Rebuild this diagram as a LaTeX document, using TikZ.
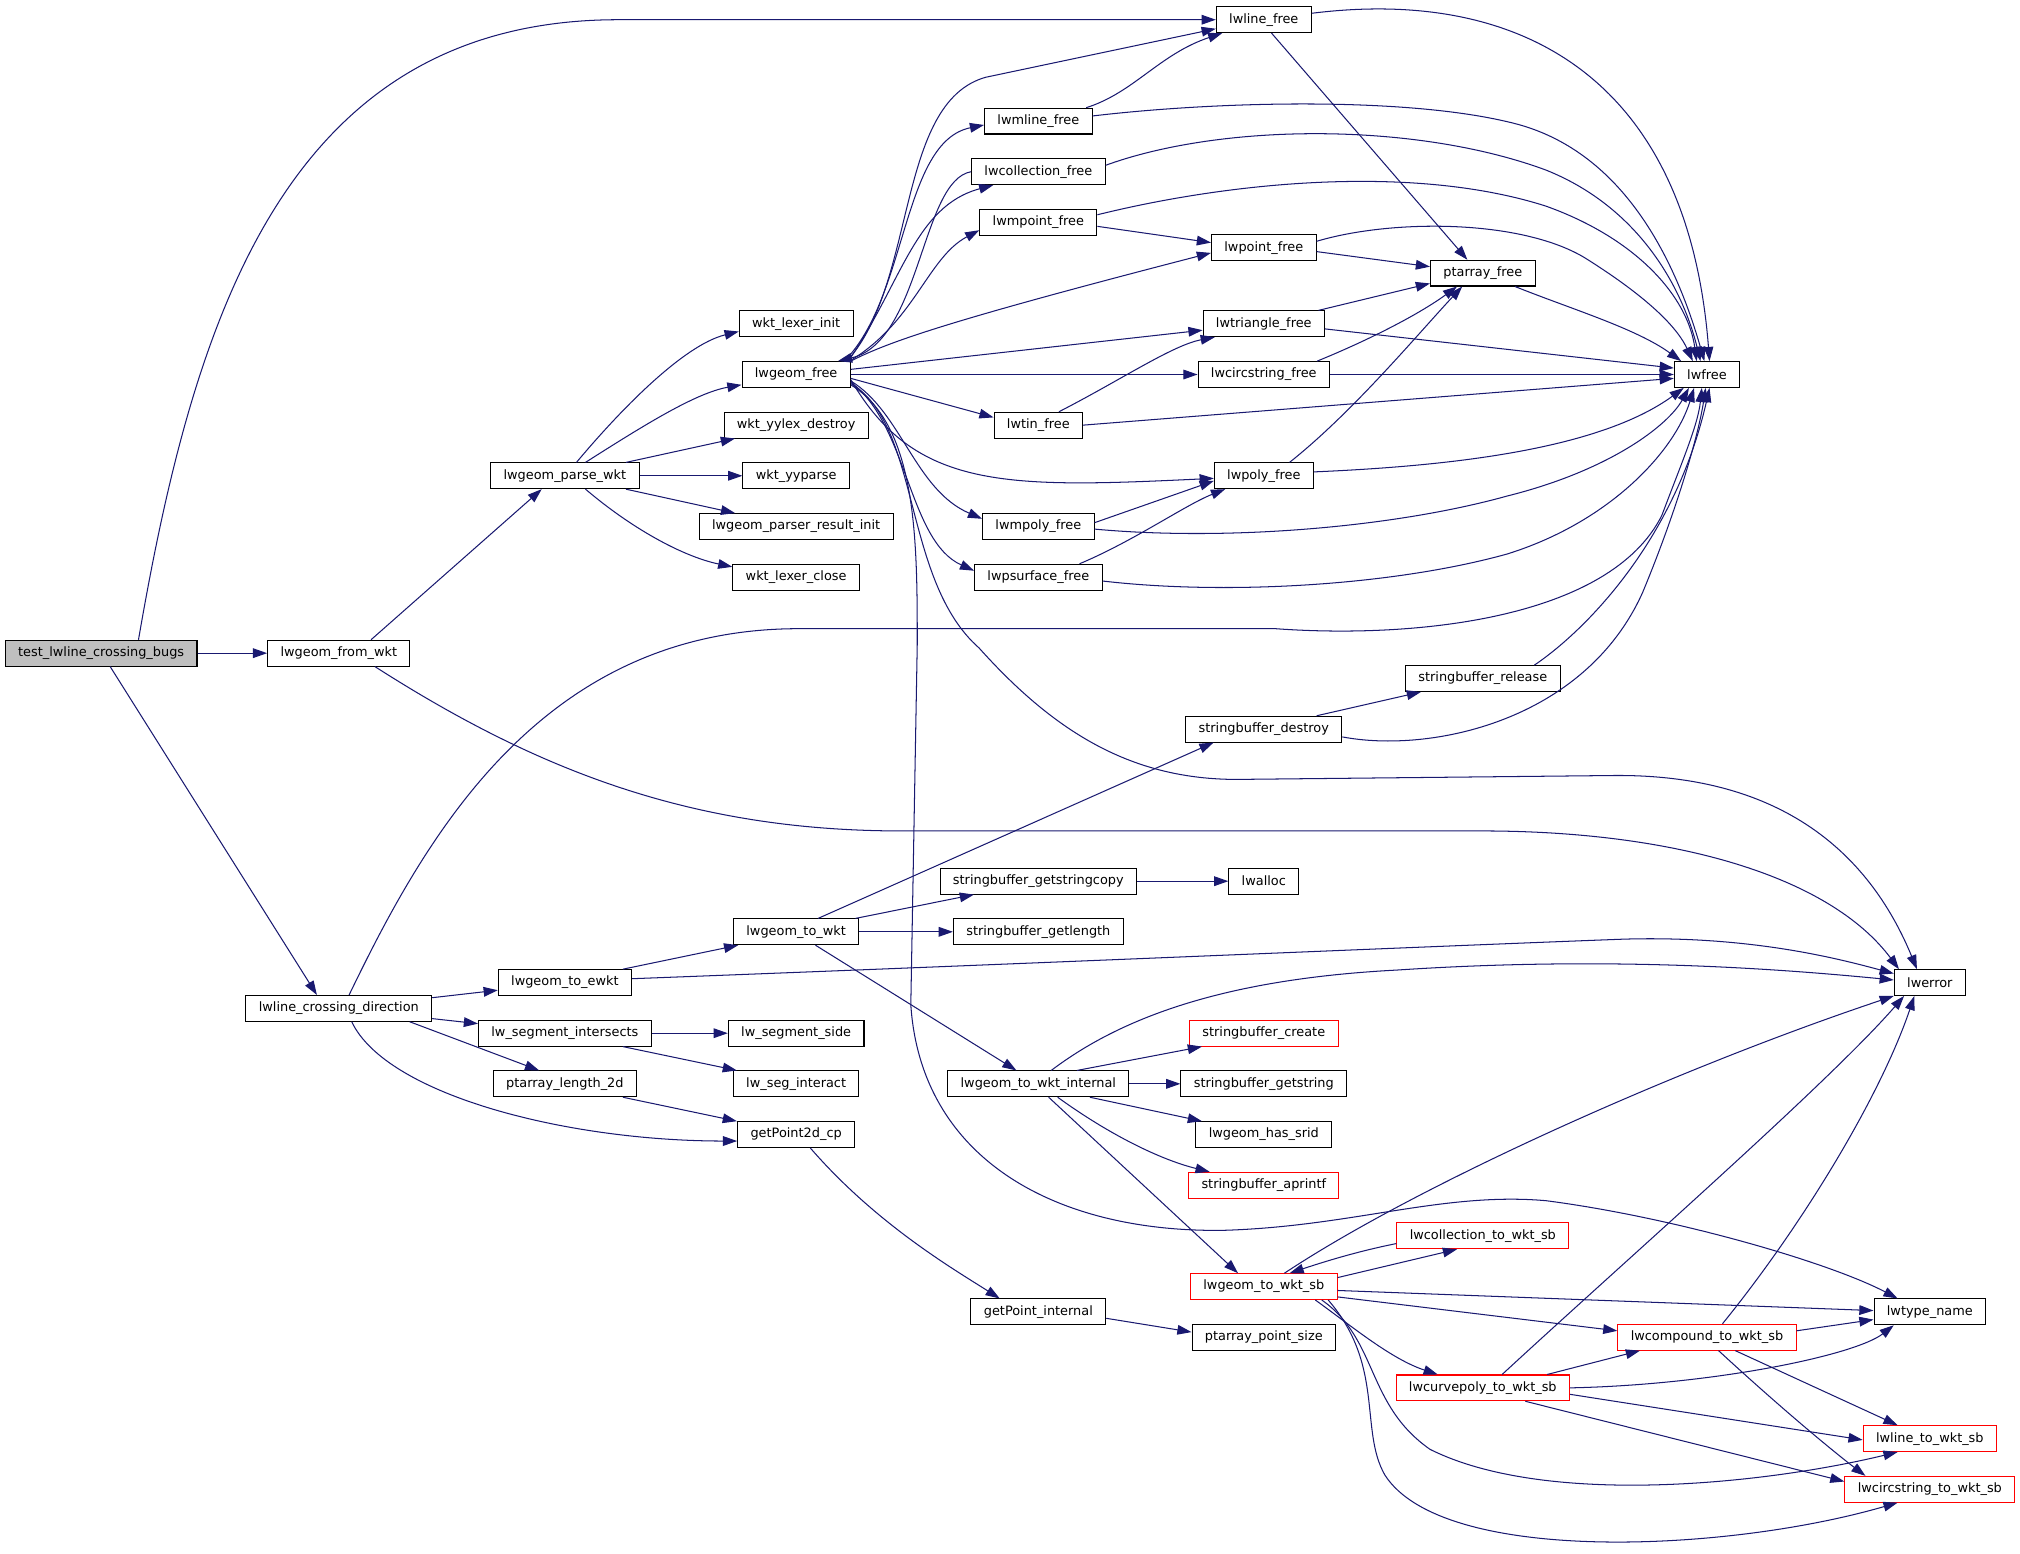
\documentclass[tikz,border=0pt]{standalone}
\usepackage{fontspec}
\setmainfont{DejaVu Sans}
\usetikzlibrary{arrows.meta}
\definecolor{edgeblue}{HTML}{191970}
\definecolor{boxgray}{HTML}{BFBFBF}

\begin{document}
\begin{tikzpicture}[x=1pt,y=-1pt,
  fn/.style={draw=black,fill=white,line width=0.8pt,inner xsep=10pt,inner ysep=0pt,
    minimum height=20pt,font=\fontsize{10}{12}\selectfont},
  fnred/.style={fn,draw=red},
  callto/.style={draw=edgeblue,line width=0.8pt,-{Triangle[length=11pt,width=7.5pt]}}]
\path[use as bounding box,fill=white] (0,0) rectangle (1568,1205.5);

\node[fn,fill=boxgray] (test) at (78.5,507) {test\_lwline\_crossing\_bugs};
\node[fn] (fromwkt) at (263,507) {lwgeom\_from\_wkt};
\node[fn] (crossdir) at (263,782.7) {lwline\_crossing\_direction};
\node[fn] (parsewkt) at (438.5,369.3) {lwgeom\_parse\_wkt};
\node[fn] (toewkt) at (438.5,762.7) {lwgeom\_to\_ewkt};
\node[fn] (segint) at (438.5,802) {lw\_segment\_intersects};
\node[fn] (palen) at (438.5,841.3) {ptarray\_length\_2d};
\node[fn] (lexinit) at (618,251.3) {wkt\_lexer\_init};
\node[fn] (geomfree) at (618,290.7) {lwgeom\_free};
\node[fn] (yylexdes) at (618,330) {wkt\_yylex\_destroy};
\node[fn] (yyparse) at (618,369.3) {wkt\_yyparse};
\node[fn] (resinit) at (618,408.7) {lwgeom\_parser\_result\_init};
\node[fn] (lexclose) at (618,448) {wkt\_lexer\_close};
\node[fn] (towkt) at (618,723.3) {lwgeom\_to\_wkt};
\node[fn] (segside) at (618,802) {lw\_segment\_side};
\node[fn] (seginter) at (618,841.3) {lw\_seg\_interact};
\node[fn] (gp2d) at (618,880.7) {getPoint2d\_cp};
\node[fn] (mlinefree) at (806,94) {lwmline\_free};
\node[fn] (collfree) at (806,133.3) {lwcollection\_free};
\node[fn] (mpointfree) at (806,172.7) {lwmpoint\_free};
\node[fn] (tinfree) at (806,330) {lwtin\_free};
\node[fn] (mpolyfree) at (806,408.7) {lwmpoly\_free};
\node[fn] (psurffree) at (806,448) {lwpsurface\_free};
\node[fn] (sbcopy) at (806,684) {stringbuffer\_getstringcopy};
\node[fn] (sblen) at (806,723.3) {stringbuffer\_getlength};
\node[fn] (wktint) at (806,841.3) {lwgeom\_to\_wkt\_internal};
\node[fn] (gpint) at (806,1018.3) {getPoint\_internal};
\node[fn] (linefree) at (981,15.3) {lwline\_free};
\node[fn] (pointfree) at (981,192.3) {lwpoint\_free};
\node[fn] (trifree) at (981,251.3) {lwtriangle\_free};
\node[fn] (circfree) at (981,290.7) {lwcircstring\_free};
\node[fn] (polyfree) at (981,369.3) {lwpoly\_free};
\node[fn] (sbdestroy) at (981,566) {stringbuffer\_destroy};
\node[fn] (lwalloc) at (981,684) {lwalloc};
\node[fnred] (sbcreate) at (981,802) {stringbuffer\_create};
\node[fn] (sbgetstr) at (981,841.3) {stringbuffer\_getstring};
\node[fn] (hassrid) at (981,880.7) {lwgeom\_has\_srid};
\node[fnred] (sbaprintf) at (981,920) {stringbuffer\_aprintf};
\node[fnred] (wktsb) at (981,998.7) {lwgeom\_to\_wkt\_sb};
\node[fn] (ptsize) at (981,1038) {ptarray\_point\_size};
\node[fn] (pafree) at (1151,212) {ptarray\_free};
\node[fn] (sbrelease) at (1151,526.7) {stringbuffer\_release};
\node[fnred] (collwkt) at (1151,959.3) {lwcollection\_to\_wkt\_sb};
\node[fnred] (curvewkt) at (1151,1077.3) {lwcurvepoly\_to\_wkt\_sb};
\node[fn] (lwfree) at (1325,290.7) {lwfree};
\node[fnred] (compwkt) at (1325,1038) {lwcompound\_to\_wkt\_sb};
\node[fn] (lwerror) at (1498,762.7) {lwerror};
\node[fn] (typename) at (1498,1018.3) {lwtype\_name};
\node[fnred] (linewkt) at (1498,1116.7) {lwline\_to\_wkt\_sb};
\node[fnred] (circwkt) at (1498,1156) {lwcircstring\_to\_wkt\_sb};

\draw[callto] ([xshift=29pt]test.north) .. controls (150,250) and (220,15.3) .. (480,15.3) -- (linefree.west);
\draw[callto] (test) -- (fromwkt);
\draw[callto] ([xshift=7pt]test.south) -- ([xshift=-17pt]crossdir.north);
\draw[callto] ([xshift=25pt]fromwkt.north) -- ([xshift=-18pt]parsewkt.south);
\draw[callto] ([xshift=28pt]fromwkt.south) .. controls (420,600) and (540,645) .. (700,645) -- (1150,645) .. controls (1300,645) and (1420,680) .. ([xshift=4pt]lwerror.north west);
\draw[callto] ([xshift=8pt]crossdir.north) .. controls (330,650) and (420,488) .. (620,488) -- (990,488) .. controls (1100,496) and (1250,480) .. (1290,400) .. controls (1305,360) and (1318,330) .. ([xshift=-4pt]lwfree.south);
\draw[callto] (crossdir) -- (toewkt);
\draw[callto] (crossdir) -- (segint);
\draw[callto] ([xshift=55pt]crossdir.south) -- ([xshift=-20pt]palen.north);
\draw[callto] ([xshift=10pt]crossdir.south) .. controls (300,850) and (440,885.7) .. ([yshift=-5pt]gp2d.west);

\draw[callto] ([xshift=9pt]parsewkt.north) .. controls (480,320) and (530,268) .. ([yshift=-6pt]lexinit.west);
\draw[callto] ([xshift=16pt]parsewkt.north) .. controls (500,330) and (540,305) .. ([yshift=-8pt]geomfree.west);
\draw[callto] (parsewkt) -- (yylexdes);
\draw[callto] (parsewkt) -- (yyparse);
\draw[callto] (parsewkt) -- (resinit);
\draw[callto] ([xshift=16pt]parsewkt.south) .. controls (490,410) and (530,432) .. ([yshift=8pt]lexclose.west);

\draw[callto] ([xshift=-3pt]geomfree.north east) .. controls (712,220) and (695,80) .. (765,60) -- ([yshift=-7pt]linefree.west);
\draw[callto] ([xshift=-5pt]geomfree.north east) .. controls (705,230) and (700,110) .. ([yshift=-3pt]mlinefree.west);
\draw[callto] ([xshift=-2pt]geomfree.north east) .. controls (700,220) and (710,160) .. ([xshift=-35pt]collfree.south);
\draw[callto] (collfree.west) .. controls (715,140) and (715,265) .. ([xshift=-10pt]geomfree.north east);
\draw[callto] ([xshift=-1pt]geomfree.north east) .. controls (710,250) and (720,200) .. ([yshift=-6pt]mpointfree.west);
\draw[callto] (geomfree.north east) .. controls (690,265) and (740,248) .. ([yshift=-4pt]pointfree.west);
\draw[callto] ([yshift=4pt]geomfree.east) -- ([yshift=-5pt]trifree.west);
\draw[callto] (geomfree) -- (circfree);
\draw[callto] ([yshift=-3pt]geomfree.east) -- ([yshift=6pt]tinfree.west);
\draw[callto] ([yshift=-4pt]geomfree.east) .. controls (710,380) and (780,379) .. ([yshift=-2pt]polyfree.west);
\draw[callto] ([yshift=-5pt]geomfree.east) .. controls (700,320) and (710,380) .. ([yshift=6pt]mpolyfree.west);
\draw[callto] ([yshift=-6pt]geomfree.east) .. controls (705,330) and (705,420) .. ([yshift=5pt]psurffree.west);
\draw[callto] ([yshift=-7pt]geomfree.east) .. controls (715,330) and (700,450) .. (760,503) .. controls (820,570) and (880,605) .. (960,605) -- (1250,602) .. controls (1380,600) and (1450,660) .. ([xshift=-10pt]lwerror.north);
\draw[callto] ([yshift=-8pt]geomfree.east) .. controls (712,330) and (712,420) .. (712,500) -- (707,780) .. controls (715,900) and (820,957) .. (950,955) .. controls (1050,952) and (1120,925) .. (1200,932) .. controls (1300,945) and (1420,980) .. ([xshift=-25pt]typename.north);

\draw[callto] ([xshift=6pt]linefree.south) -- ([xshift=-12pt]pafree.north);
\draw[callto] ([yshift=5pt]linefree.east) .. controls (1180,-10) and (1310,60) .. ([xshift=2pt]lwfree.north);
\draw[callto] ([xshift=-5pt]mlinefree.north east) .. controls (880,72) and (900,42) .. ([xshift=5pt]linefree.south west);
\draw[callto] ([yshift=4pt]mlinefree.east) .. controls (950,78) and (1100,75) .. (1180,97) .. controls (1260,120) and (1300,200) .. ([xshift=-2pt]lwfree.north);
\draw[callto] ([yshift=5pt]collfree.east) .. controls (950,95) and (1100,95) .. (1200,132) .. controls (1270,160) and (1305,220) .. ([xshift=-5pt]lwfree.north);
\draw[callto] ([yshift=-3pt]mpointfree.east) -- ([yshift=4pt]pointfree.west);
\draw[callto] ([yshift=6pt]mpointfree.east) .. controls (960,140) and (1100,128) .. (1200,160) .. controls (1270,185) and (1310,230) .. ([xshift=-8pt]lwfree.north);
\draw[callto] ([yshift=-3pt]pointfree.east) -- ([yshift=5pt]pafree.west);
\draw[callto] ([yshift=5pt]pointfree.east) .. controls (1080,170) and (1180,170) .. (1230,200) .. controls (1270,225) and (1300,250) .. ([xshift=-11pt]lwfree.north);
\draw[callto] ([xshift=25pt]pafree.south) .. controls (1220,240) and (1270,255) .. ([xshift=-20pt]lwfree.north);
\draw[callto] ([xshift=-5pt]trifree.north east) -- ([yshift=-8pt]pafree.west);
\draw[callto] ([yshift=-4pt]trifree.east) -- ([yshift=5pt]lwfree.west);
\draw[callto] ([xshift=-10pt]circfree.north east) .. controls (1060,265) and (1100,245) .. ([xshift=-20pt]pafree.south);
\draw[callto] (circfree) -- (lwfree);
\draw[callto] ([xshift=16pt]tinfree.north) .. controls (870,295) and (910,268) .. ([xshift=-38pt]trifree.south);
\draw[callto] (tinfree.east) -- ([yshift=-3pt]lwfree.west);
\draw[callto] ([xshift=20pt]polyfree.north) .. controls (1050,320) and (1100,260) .. ([xshift=-16pt]pafree.south);
\draw[callto] ([yshift=3pt]polyfree.east) .. controls (1120,362) and (1240,350) .. ([xshift=-18pt]lwfree.south);
\draw[callto] ([yshift=3pt]mpolyfree.east) -- ([yshift=-4pt]polyfree.west);
\draw[callto] ([yshift=-2pt]mpolyfree.east) .. controls (950,420) and (1080,410) .. (1170,385) .. controls (1250,365) and (1295,330) .. ([xshift=-14pt]lwfree.south);
\draw[callto] ([xshift=32pt]psurffree.north) .. controls (880,420) and (920,392) .. ([xshift=-30pt]polyfree.south);
\draw[callto] ([yshift=-3pt]psurffree.east) .. controls (950,462) and (1080,455) .. (1170,430) .. controls (1250,405) and (1300,350) .. ([xshift=-10pt]lwfree.south);
\draw[callto] ([xshift=40pt]sbrelease.north) .. controls (1230,490) and (1300,420) .. ([xshift=2pt]lwfree.south);
\draw[callto] ([xshift=41pt]sbdestroy.north) -- ([xshift=-48pt]sbrelease.south);
\draw[callto] ([yshift=-6pt]sbdestroy.east) .. controls (1110,585) and (1230,560) .. (1275,460) .. controls (1300,400) and (1318,340) .. ([xshift=-1pt]lwfree.south);

\draw[callto] ([xshift=45pt]toewkt.north) -- ([xshift=-45pt]towkt.south);
\draw[callto] ([yshift=3pt]toewkt.east) .. controls (800,748) and (1100,735) .. (1260,729) .. controls (1360,726) and (1430,745) .. ([yshift=7pt]lwerror.west);
\draw[callto] ([xshift=17pt]towkt.north) -- ([xshift=-39pt]sbdestroy.south);
\draw[callto] ([xshift=-3pt]towkt.north east) -- ([xshift=-50pt]sbcopy.south);
\draw[callto] (towkt) -- (sblen);
\draw[callto] ([xshift=15pt]towkt.south) -- ([xshift=-17pt]wktint.north);
\draw[callto] (sbcopy) -- (lwalloc);
\draw[callto] (segint) -- (segside);
\draw[callto] ([xshift=45pt]segint.south) -- ([xshift=-46pt]seginter.north);
\draw[callto] ([xshift=45pt]palen.south) -- ([xshift=-46pt]gp2d.north);
\draw[callto] ([xshift=11pt]gp2d.south) .. controls (680,950) and (740,985) .. ([xshift=-30pt]gpint.north);
\draw[callto] ([yshift=-5pt]gpint.east) -- ([yshift=4pt]ptsize.west);

\draw[callto] ([xshift=10pt]wktint.north) .. controls (870,790) and (950,760) .. (1084,753) .. controls (1250,742) and (1380,752) .. ([yshift=2pt]lwerror.west);
\draw[callto] ([xshift=30pt]wktint.north) -- ([xshift=-48pt]sbcreate.south);
\draw[callto] (wktint) -- (sbgetstr);
\draw[callto] ([xshift=40pt]wktint.south) -- ([xshift=-48pt]hassrid.north);
\draw[callto] ([xshift=15pt]wktint.south) .. controls (860,880) and (900,900) .. ([xshift=-42pt]sbaprintf.north);
\draw[callto] ([xshift=8pt]wktint.south) -- ([xshift=-20pt]wktsb.north);

\draw[callto] ([xshift=16pt]wktsb.north) .. controls (1100,920) and (1300,830) .. ([xshift=-28pt]lwerror.south);
\draw[callto] ([yshift=7pt]wktsb.east) -- ([xshift=-20pt]collwkt.south);
\draw[callto] ([yshift=-6pt]collwkt.west) .. controls (1050,972) and (1020,982) .. ([xshift=20pt]wktsb.north);
\draw[callto] ([yshift=-3pt]wktsb.east) -- ([yshift=1pt]typename.west);
\draw[callto] ([yshift=-8pt]wktsb.east) -- ([yshift=5pt]compwkt.west);
\draw[callto] ([xshift=40pt]wktsb.south) .. controls (1050,1030) and (1080,1055) .. ([xshift=-35pt]curvewkt.north);
\draw[callto] ([xshift=45pt]wktsb.south) .. controls (1070,1040) and (1060,1090) .. (1110,1125) .. controls (1200,1170) and (1370,1152) .. ([xshift=-25pt]linewkt.south);
\draw[callto] ([xshift=50pt]wktsb.south) .. controls (1075,1060) and (1055,1110) .. (1075,1145) .. controls (1120,1215) and (1340,1205) .. ([xshift=-25pt]circwkt.south);

\draw[callto] ([xshift=12pt]compwkt.north) .. controls (1400,950) and (1460,850) .. ([xshift=-12pt]lwerror.south);
\draw[callto] ([yshift=5pt]compwkt.east) -- ([yshift=-6pt]typename.west);
\draw[callto] ([xshift=22pt]compwkt.south) -- ([xshift=-25pt]linewkt.north);
\draw[callto] ([xshift=9pt]compwkt.south) .. controls (1390,1100) and (1430,1132) .. ([xshift=-50pt]circwkt.north);

\draw[callto] ([xshift=15pt]curvewkt.north) .. controls (1260,980) and (1420,840) .. ([xshift=-20pt]lwerror.south);
\draw[callto] ([xshift=50pt]curvewkt.north) -- ([xshift=-52pt]compwkt.south);
\draw[callto] (curvewkt.east) .. controls (1330,1075) and (1440,1052) .. ([xshift=-28pt]typename.south);
\draw[callto] ([yshift=-5pt]curvewkt.east) -- ([yshift=-1pt]linewkt.west);
\draw[callto] ([xshift=33pt]curvewkt.south) -- ([yshift=6pt]circwkt.west);
\end{tikzpicture}
\end{document}
